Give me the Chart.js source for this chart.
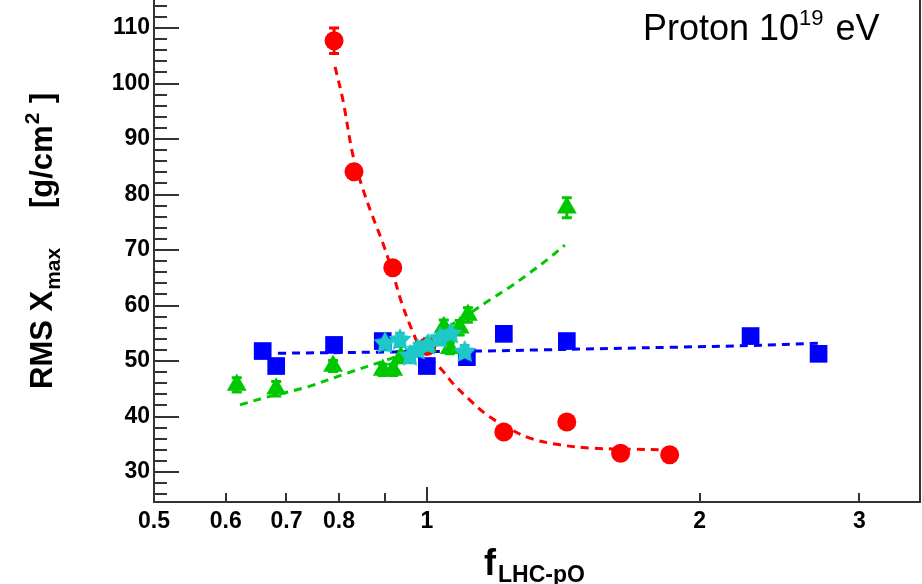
<!DOCTYPE html>
<html>
<head>
<meta charset="utf-8">
<script src="https://cdn.jsdelivr.net/npm/chart.js@4.4.1/dist/chart.umd.min.js"></script>
<style>
  html, body { margin: 0; padding: 0; background: #fff; }
  #wrap { width: 922px; height: 584px; }
</style>
</head>
<body>
<div id="wrap"><canvas id="rmsChart" width="922" height="584"></canvas></div>
<script>
// values
var xTicks = [0.5, 0.6, 0.7, 0.8, 0.9, 1, 2, 3];
var xTickLabels = ['0.5', '0.6', '0.7', '0.8', '', '1', '2', '3'];
var yTicks = [30, 40, 50, 60, 70, 80, 90, 100, 110];

var redX = [0.790, 0.831, 0.917, 1.0, 1.216, 1.427, 1.636, 1.853];
var redY = [107.7, 84.1, 66.8, 52.6, 37.2, 39.0, 33.4, 33.1];
var redErr = [2.3, 1.2, 0.7, 0.5, 0.5, 0.5, 0.5, 0.5];

var blueX = [0.659, 0.682, 0.790, 0.894, 1.0, 1.107, 1.216, 1.427, 2.276, 2.705];
var blueY = [51.8, 49.1, 52.9, 53.6, 49.1, 50.7, 54.9, 53.6, 54.5, 51.3];
var blueErr = [0.4, 0.4, 0.4, 0.4, 0.4, 0.4, 0.4, 0.4, 0.4, 0.4];

var greenX = [0.617, 0.682, 0.788, 0.894, 0.918, 0.936, 1.0, 1.044, 1.06, 1.087, 1.110, 1.427];
var greenY = [45.7, 45.0, 49.1, 48.4, 48.4, 50.7, 52.6, 56.1, 52.3, 56.0, 58.3, 77.6];
var greenErr = [1.3, 1.3, 1.0, 1.0, 1.0, 1.0, 1.0, 1.3, 1.0, 1.3, 1.3, 1.8];

var cyanX = [0.899, 0.934, 0.958, 0.977, 1.003, 1.034, 1.063, 1.101];
var cyanY = [53.2, 53.8, 50.9, 52.0, 52.9, 54.1, 54.9, 51.6];
var cyanErr = [1.2, 1.2, 1.2, 1.2, 1.2, 1.2, 1.2, 1.2];

// dashed fit curves, sampled along the drawn lines
var redFitX = [0.792, 0.808, 0.829, 0.850, 0.872, 0.894, 0.915, 0.938, 0.963, 0.987, 1.039, 1.068, 1.115, 1.165, 1.225, 1.299, 1.402, 1.524, 1.687, 1.853];
var redFitY = [103.0, 97.0, 87.0, 81.0, 75.9, 71.3, 66.4, 60.5, 55.6, 52.0, 48.4, 46.0, 43.0, 40.3, 38.1, 36.1, 34.9, 34.3, 34.1, 34.0];
var blueFitX = [0.685, 0.88, 1.14, 1.33, 1.886, 2.28, 2.70];
var blueFitY = [51.4, 51.6, 51.8, 52.0, 52.5, 52.8, 53.2];
var greenFitX = [0.622, 0.666, 0.737, 0.816, 0.903, 0.951, 1.115, 1.173, 1.234, 1.299, 1.366, 1.420];
var greenFitY = [42.1, 43.5, 45.3, 47.8, 50.2, 51.6, 58.6, 61.0, 63.3, 65.9, 68.6, 70.9];

var RED = '#ff0000', BLUE = '#0000ff', GREEN = '#00c800', CYAN = '#1ec8c8';
var FONT = "'Liberation Sans', Arial, sans-serif";

function pts(xs, ys) {
    return xs.map(function (x, i) { return { x: x, y: ys[i] }; });
}

function makeStar(color, size) {
    var c = document.createElement('canvas');
    c.width = size; c.height = size;
    var g = c.getContext('2d');
    g.fillStyle = color;
    g.beginPath();
    for (var i = 0; i < 10; i++) {
        var r = (i % 2) ? size * 0.26 : size * 0.5;
        var a = -Math.PI / 2 + i * Math.PI / 5;
        var px = size / 2 + r * Math.cos(a), py = size / 2 + r * Math.sin(a);
        if (i == 0) g.moveTo(px, py); else g.lineTo(px, py);
    }
    g.closePath();
    g.fill();
    return c;
}

function fitLine(xs, ys, color, order) {
    return {
        type: 'line',
        data: pts(xs, ys),
        borderColor: color,
        borderWidth: 3,
        borderDash: [8, 6],
        pointRadius: 0,
        tension: 0.35,
        fill: false,
        order: order,
    };
}

// ROOT style error bars with end caps
var errorBars = {
    id: 'errorBars',
    beforeDatasetsDraw: function (chart) {
        var ctx = chart.ctx, ys = chart.scales.y;
        chart.data.datasets.forEach(function (ds, i) {
            if (!ds.errors) return;
            var meta = chart.getDatasetMeta(i);
            ctx.save();
            ctx.strokeStyle = ds.backgroundColor;
            ctx.lineWidth = 3;
            meta.data.forEach(function (el, j) {
                var v = ds.data[j].y, e = ds.errors[j];
                var top = ys.getPixelForValue(v + e), bot = ys.getPixelForValue(v - e);
                ctx.beginPath();
                ctx.moveTo(el.x, top); ctx.lineTo(el.x, bot);
                ctx.moveTo(el.x - 5, top); ctx.lineTo(el.x + 5, top);
                ctx.moveTo(el.x - 5, bot); ctx.lineTo(el.x + 5, bot);
                ctx.stroke();
            });
            ctx.restore();
        });
    }
};

// inward tick marks, right frame, axis titles and the label
var frameAndText = {
    id: 'frameAndText',
    afterDraw: function (chart) {
        var ctx = chart.ctx, a = chart.chartArea;
        var xs = chart.scales.x, ys = chart.scales.y;
        ctx.save();
        ctx.strokeStyle = '#333';
        ctx.lineWidth = 2;
        ctx.beginPath();
        for (var v = 26; v <= 114; v += 2) {
            var py = Math.round(ys.getPixelForValue(v));
            var len = (v % 10 == 0) ? 25 : 13;
            ctx.moveTo(a.left, py); ctx.lineTo(a.left + len, py);
        }
        xTicks.forEach(function (t) {
            if (t == 0.5) return;
            var px = Math.round(xs.getPixelForValue(t));
            var len = (t == 1) ? 15 : 9;
            ctx.moveTo(px, a.bottom); ctx.lineTo(px, a.bottom - len);
        });
        ctx.moveTo(a.right, a.top); ctx.lineTo(a.right, a.bottom);
        ctx.stroke();

        ctx.fillStyle = '#000';
        ctx.textBaseline = 'alphabetic';
        // x title
        ctx.font = 'bold 36px ' + FONT;
        ctx.fillText('f', 484, 575);
        ctx.font = 'bold 23px ' + FONT;
        ctx.fillText('LHC-pO', 498, 582);

        // y title
        ctx.save();
        ctx.translate(52, 389);
        ctx.rotate(-Math.PI / 2);
        ctx.font = 'bold 31px ' + FONT;
        ctx.fillText('RMS X', 0, 0);
        var w = ctx.measureText('RMS X').width;
        ctx.font = 'bold 21px ' + FONT;
        ctx.fillText('max', w + 1, 8);
        ctx.font = 'bold 31px ' + FONT;
        ctx.fillText('[g/cm', 181, 0);
        var w2 = ctx.measureText('[g/cm').width;
        ctx.font = 'bold 21px ' + FONT;
        ctx.fillText('2', 181 + w2 + 1, -13);
        var w3 = ctx.measureText('2').width;
        ctx.font = 'bold 31px ' + FONT;
        ctx.fillText(' ]', 181 + w2 + w3 + 2, 0);
        ctx.restore();

        // label
        ctx.font = '36px ' + FONT;
        ctx.fillText('Proton 10', 643, 40);
        var w4 = ctx.measureText('Proton 10').width;
        ctx.font = '22px ' + FONT;
        ctx.fillText('19', 643 + w4, 25);
        var w5 = ctx.measureText('19').width;
        ctx.font = '36px ' + FONT;
        ctx.fillText(' eV', 643 + w4 + w5 + 2, 40);
        ctx.restore();
    }
};

var ctx = document.getElementById('rmsChart');
var myChart = new Chart(ctx, {
    type: 'scatter',
    plugins: [errorBars, frameAndText],
    data: {
        datasets: [
            {
                label: 'cyan',
                data: pts(cyanX, cyanY),
                errors: cyanErr,
                backgroundColor: CYAN,
                borderColor: CYAN,
                pointStyle: makeStar(CYAN, 24),
                order: 0,
            },
            {
                label: 'green',
                data: pts(greenX, greenY),
                errors: greenErr,
                backgroundColor: GREEN,
                borderColor: GREEN,
                pointStyle: 'triangle',
                pointRadius: 11.5,
                borderWidth: 0,
                order: 1,
            },
            {
                label: 'red',
                data: pts(redX, redY),
                errors: redErr,
                backgroundColor: RED,
                borderColor: RED,
                pointStyle: 'circle',
                pointRadius: 9.5,
                borderWidth: 0,
                order: 2,
            },
            {
                label: 'blue',
                data: pts(blueX, blueY),
                errors: blueErr,
                backgroundColor: BLUE,
                borderColor: BLUE,
                pointStyle: 'rect',
                pointRadius: 12.5,
                borderWidth: 0,
                order: 3,
            },
            fitLine(blueFitX, blueFitY, BLUE, 4),
            fitLine(greenFitX, greenFitY, GREEN, 5),
            fitLine(redFitX, redFitY, RED, 6),
        ]
    },
    options: {
        responsive: false,
        animation: false,
        devicePixelRatio: 1,
        layout: { autoPadding: false, padding: { top: 0, right: 2, left: 0, bottom: 0 } },
        plugins: {
            legend: { display: false },
            tooltip: { enabled: false },
        },
        scales: {
            x: {
                type: 'logarithmic',
                min: 0.5,
                max: 3.5,
                afterBuildTicks: function (scale) {
                    scale.ticks = xTicks.map(function (v) { return { value: v }; });
                },
                afterFit: function (scale) {
                    scale.height = 82;
                    scale.paddingLeft = 0; scale.paddingRight = 0;
                    scale.paddingTop = 0; scale.paddingBottom = 0;
                },
                grid: { display: false, drawTicks: false },
                border: { display: true, color: '#333', width: 2 },
                ticks: {
                    autoSkip: false,
                    maxRotation: 0,
                    padding: 6,
                    color: '#000',
                    font: { family: FONT, size: 23, weight: 'bold' },
                    callback: function (value, index) { return xTickLabels[index]; }
                },
            },
            y: {
                type: 'linear',
                min: 24.6,
                max: 115.05,
                afterBuildTicks: function (scale) {
                    scale.ticks = yTicks.map(function (v) { return { value: v }; });
                },
                afterFit: function (scale) {
                    scale.width = 154;
                    scale.paddingLeft = 0; scale.paddingRight = 0;
                    scale.paddingTop = 0; scale.paddingBottom = 0;
                },
                grid: { display: false, drawTicks: false },
                border: { display: true, color: '#333', width: 2 },
                ticks: {
                    padding: 4,
                    color: '#000',
                    font: { family: FONT, size: 23, weight: 'bold' },
                },
            },
        },
    },
});
</script>
</body>
</html>
